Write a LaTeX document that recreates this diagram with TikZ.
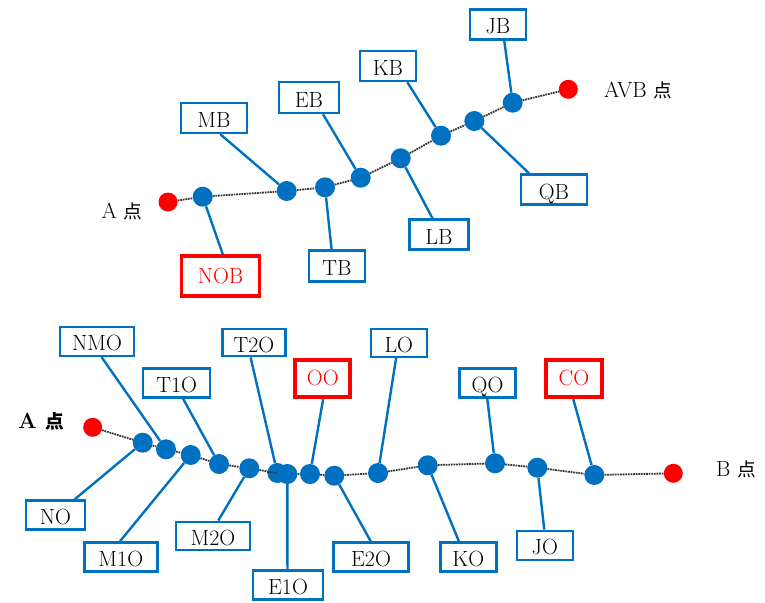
\documentclass[tikz,border=0pt]{standalone}
\usepackage{fontspec}
\newfontfamily\cjk[Scale=0.85]{Noto Sans CJK JP}
\definecolor{nblue}{HTML}{0070C0}
\definecolor{nred}{HTML}{FF0000}
\begin{document}
\begin{tikzpicture}[x=1pt,y=-1pt,
  box/.style={draw=nblue, line width=2.4pt, fill=white, inner sep=0pt, text height=19pt, text depth=0pt, font=\fontsize{22}{26}\selectfont},
  rbox/.style={box, draw=nred, line width=3.8pt, text=nred, text height=16pt, text depth=2pt},
  bdot/.style={circle, fill=nblue, minimum size=20pt, inner sep=0pt},
  rdot/.style={circle, fill=nred, minimum size=19pt, inner sep=0pt},
  link/.style={draw=nblue, line width=2.4pt},
  route/.style={draw=gray!45!black, line width=1.8pt, dash pattern=on 1.8pt off 0.8pt},
  lab/.style={font=\fontsize{22}{26}\selectfont, inner sep=0pt}]
\useasboundingbox (0,0) rectangle (765,602);
% ---------- top ----------
\node[rdot] (ta) at (168,202) {};
\node[bdot] (t1) at (202.7,196.7) {};
\node[bdot] (tmb) at (286.7,191) {};
\node[bdot] (ttb) at (325,187.3) {};
\node[bdot] (teb) at (360.7,177.7) {};
\node[bdot] (tlb) at (400.7,158.3) {};
\node[bdot] (tkb) at (441,135.7) {};
\node[bdot] (tqb) at (474.3,121) {};
\node[bdot] (tjb) at (512.7,102.7) {};
\node[rdot] (tavb) at (568.3,89.3) {};
\draw[route] (ta) -- (t1) -- (tmb) -- (ttb) -- (teb) -- (tlb) -- (tkb) -- (tqb) -- (tjb) -- (tavb);
\node[lab] (la) at (122,211) {A {\cjk 点}};
\node[lab] (lavb) at (638,90) {AVB {\cjk 点}};
\node[box, minimum width=66pt, minimum height=30pt] (mb) at (214,118) {MB};
\node[box, minimum width=60pt, minimum height=31pt] (eb) at (309,97.5) {EB};
\node[box, minimum width=56pt, minimum height=30pt] (kb) at (388,66) {KB};
\node[box, minimum width=56pt, minimum height=30pt] (jb) at (498,24.5) {JB};
\node[box, minimum width=66pt, minimum height=30pt] (qb) at (554,189.5) {QB};
\node[box, minimum width=59pt, minimum height=30pt] (lb) at (439,234.5) {LB};
\node[box, minimum width=56pt, minimum height=31pt] (tb) at (337,266) {TB};
\node[rbox, minimum width=78pt, minimum height=40pt] (nob) at (220.5,276.3) {NOB};
\draw[link] (mb.-69) -- (tmb);
\draw[link] (eb.-50) -- (teb);
\draw[link] (kb.-40) -- (tkb);
\draw[link] (jb.-69) -- (tjb);
\draw[link] (qb.147) -- (tqb);
\draw[link] (lb.112) -- (tlb);
\draw[link] (tb.108) -- (ttb);
\draw[link] (nob.84) -- (t1);
% ---------- bottom ----------
\node[rdot] (ba) at (92.7,427.3) {};
\node[bdot] (bno) at (142.7,442.7) {};
\node[bdot] (bnmo) at (166,449.3) {};
\node[bdot] (bm1o) at (190.7,455) {};
\node[bdot] (bt1o) at (219,464) {};
\node[bdot] (bm2o) at (249.3,468.3) {};
\node[bdot] (bt2o) at (277.3,473) {};
\node[bdot] (be1o) at (287.3,474) {};
\node[bdot] (boo) at (310,474) {};
\node[bdot] (be2o) at (334.3,475.7) {};
\node[bdot] (blo) at (378,473) {};
\node[bdot] (bko) at (427.7,465.3) {};
\node[bdot] (bqo) at (495,463.3) {};
\node[bdot] (bjo) at (537.3,467.7) {};
\node[bdot] (bco) at (594.3,475) {};
\node[rdot] (bb) at (673.3,473.3) {};
\draw[route] (ba) -- (bno) -- (bnmo) -- (bm1o) -- (bt1o) -- (bm2o) -- (bt2o) -- (be1o) -- (boo) -- (be2o) -- (blo) -- (bko) -- (bqo) -- (bjo) -- (bco) -- (bb);
\node[lab, font=\fontsize{22}{26}\selectfont\bfseries] (lba) at (41,421.7) {A {\cjk 点}};
\node[lab] (lbb) at (736,469) {B {\cjk 点}};
\node[box, minimum width=74pt, minimum height=29pt] (nmo) at (97,341.3) {NMO};
\node[box, minimum width=67pt, minimum height=29pt] (t1o) at (176.7,383) {T1O};
\node[box, minimum width=63pt, minimum height=27pt] (t2o) at (254,342.7) {T2O};
\node[rbox, minimum width=55pt, minimum height=37pt] (oo) at (322.8,378.8) {OO};
\node[box, minimum width=56pt, minimum height=28pt] (lo) at (398.8,342.7) {LO};
\node[box, minimum width=56pt, minimum height=29pt] (qo) at (487.5,382.8) {QO};
\node[rbox, minimum width=56pt, minimum height=37pt] (co) at (574,378.8) {CO};
\node[box, minimum width=59pt, minimum height=29pt] (no) at (55.3,515) {NO};
\node[box, minimum width=73pt, minimum height=29pt] (m1o) at (120.8,557) {M1O};
\node[box, minimum width=74pt, minimum height=28pt] (m2o) at (213,535.8) {M2O};
\node[box, minimum width=70pt, minimum height=29pt] (e1o) at (288,585) {E1O};
\node[box, minimum width=75pt, minimum height=29pt] (e2o) at (371,557) {E2O};
\node[box, minimum width=56pt, minimum height=29pt] (ko) at (468.3,557) {KO};
\node[box, minimum width=56pt, minimum height=29pt] (jo) at (544.8,545.3) {JO};
\draw[link] (nmo.-74) -- (bnmo);
\draw[link] (t1o.-68) -- (bt1o);
\draw[link] (t2o.-103) -- (bt2o);
\draw[link] (oo.-89) -- (boo);
\draw[link] (lo.-100) -- (blo);
\draw[link] (qo.-91) -- (bqo);
\draw[link] (co.-92) -- (bco);
\draw[link] (no.39) -- (bno);
\draw[link] (m1o.93) -- (bm1o);
\draw[link] (m2o.71) -- (bm2o);
\draw[link] (e1o.92) -- (be1o);
\draw[link] (e2o.91) -- (be2o);
\draw[link] (ko.121) -- (bko);
\draw[link] (jo.92) -- (bjo);
\end{tikzpicture}
\end{document}
